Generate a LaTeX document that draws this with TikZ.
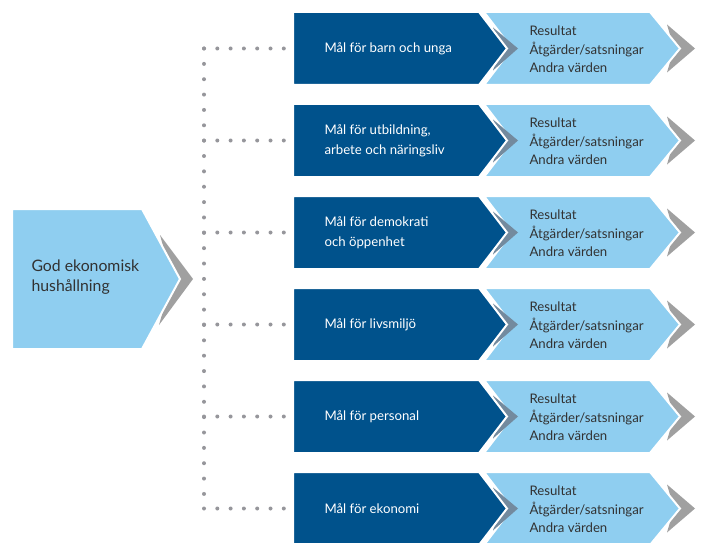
\documentclass[tikz,border=0pt]{standalone}
\usepackage{fontspec}
\setmainfont{Lato}
\usetikzlibrary{positioning}
\definecolor{malblue}{RGB}{0,82,140}
\definecolor{resblue}{RGB}{143,206,240}
\definecolor{textgray}{RGB}{50,50,50}
\definecolor{dotgray}{RGB}{150,150,155}
\definecolor{shadegray}{RGB}{160,160,160}
\definecolor{shadeslate}{RGB}{115,138,158}
\tikzset{dots/.style={dotgray, line width=4pt, line cap=round,
         dash pattern=on 0pt off #1},
         maltext/.style={white, align=left, anchor=west,
         font=\fontsize{13.2}{19.5}\selectfont},
         restext/.style={textgray, align=left, anchor=west,
         font=\fontsize{13.2}{18.5}\selectfont}}

\begin{document}
\begin{tikzpicture}[x=1pt,y=-1pt]
\useasboundingbox (0,0) rectangle (702,543);

% left chevron
\fill[shadegray] (160,235) -- (193,279) -- (159,325) -- (172,279) -- cycle;
\filldraw[resblue, draw=white, line width=2pt] (12,209) -- (142,209) -- (180,279) -- (142,349) -- (12,349) -- cycle;
\node[textgray, align=left, anchor=west, font=\fontsize{15.8}{20}\selectfont] (god) at (28,277) {God ekonomisk\\hushållning};

% rows
\foreach \i/\txt in {1/{Mål för barn och unga},
                     2/{Mål för utbildning,\\arbete och näringsliv},
                     3/{Mål för demokrati\\och öppenhet},
                     4/{Mål för livsmiljö},
                     5/{Mål för personal},
                     6/{Mål för ekonomi}}{
  \pgfmathsetmacro\c{48.5+92*(\i-1)}
  \fill[shadegray] (667,\c-24) -- (695,\c) -- (667,\c+24) -- (674,\c) -- cycle;
  \filldraw[resblue, draw=white, line width=2pt] (484,\c-36.5) -- (650,\c-36.5) -- (680,\c) -- (650,\c+36.5) -- (484,\c+36.5) -- (512,\c) -- cycle;
  \fill[shadeslate] (493,\c-21) -- (518,\c) -- (493,\c+22) -- (500,\c) -- cycle;
  \filldraw[malblue, draw=white, line width=2pt] (293,\c-36.5) -- (479,\c-36.5) -- (507,\c) -- (479,\c+36.5) -- (293,\c+36.5) -- cycle;
  \node[maltext] (mal\i) at (321,\c) {\txt};
  \node[restext] (res\i) at (526,\c+1) {Resultat\\Åtgärder/satsningar\\Andra värden};
  \coordinate (trunk\i) at (204,\c);
  \coordinate (in\i) at (284,\c);
  \draw[dots=13.3pt] (trunk\i) -- (in\i);
}
\draw[dots=15.36pt] (trunk1) -- (trunk6);

\end{tikzpicture}
\end{document}
